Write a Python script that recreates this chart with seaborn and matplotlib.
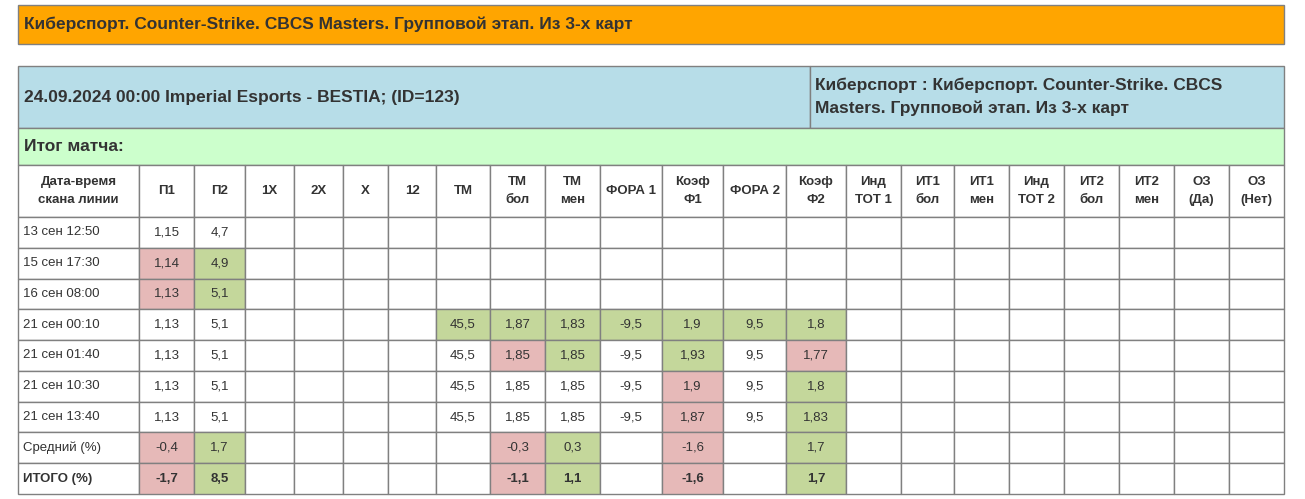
import matplotlib
matplotlib.use('Agg')
import matplotlib.pyplot as plt
from matplotlib.patches import Rectangle
import seaborn as sns

sns.set_style('white')
plt.rcParams['font.family'] = 'Liberation Sans'

TITLE = 'Киберспорт. Counter-Strike. CBCS Masters. Групповой этап. Из 3-х карт'
MATCH = '24.09.2024 00:00 Imperial Esports - BESTIA; (ID=123)'
SPORT = 'Киберспорт : Киберспорт. Counter-Strike. CBCS\nMasters. Групповой этап. Из 3-х карт'
RESULT = 'Итог матча:'

headers = ['Дата-время\nскана линии', 'П1', 'П2', '1X', '2X', 'X', '12', 'ТМ', 'ТМ\nбол', 'ТМ\nмен',
           'ФОРА 1', 'Коэф\nФ1', 'ФОРА 2', 'Коэф\nФ2', 'Инд\nТОТ 1', 'ИТ1\nбол', 'ИТ1\nмен',
           'Инд\nТОТ 2', 'ИТ2\nбол', 'ИТ2\nмен', 'ОЗ\n(Да)', 'ОЗ\n(Нет)']
col_edges = [18, 139, 194, 245, 294, 343, 388, 436, 490, 545, 600, 662, 723, 786, 846,
             901, 954, 1009, 1064, 1119, 1174, 1229, 1284]

row_labels = ['13 сен 12:50', '15 сен 17:30', '16 сен 08:00', '21 сен 00:10', '21 сен 01:40',
              '21 сен 10:30', '21 сен 13:40', 'Средний (%)', 'ИТОГО (%)']
# columns: П1, П2, 1X, 2X, X, 12, ТМ, ТМ бол, ТМ мен, ФОРА1, Коэф Ф1, ФОРА2, Коэф Ф2
values = [
    ['1,15', '4,7', '', '', '', '', '', '', '', '', '', '', ''],
    ['1,14', '4,9', '', '', '', '', '', '', '', '', '', '', ''],
    ['1,13', '5,1', '', '', '', '', '', '', '', '', '', '', ''],
    ['1,13', '5,1', '', '', '', '', '45,5', '1,87', '1,83', '-9,5', '1,9', '9,5', '1,8'],
    ['1,13', '5,1', '', '', '', '', '45,5', '1,85', '1,85', '-9,5', '1,93', '9,5', '1,77'],
    ['1,13', '5,1', '', '', '', '', '45,5', '1,85', '1,85', '-9,5', '1,9', '9,5', '1,8'],
    ['1,13', '5,1', '', '', '', '', '45,5', '1,85', '1,85', '-9,5', '1,87', '9,5', '1,83'],
    ['-0,4', '1,7', '', '', '', '', '', '-0,3', '0,3', '', '-1,6', '', '1,7'],
    ['-1,7', '8,5', '', '', '', '', '', '-1,1', '1,1', '', '-1,6', '', '1,7'],
]
# r = dropped (red), g = grew (green)
marks = [
    '             ',
    'rg           ',
    'rg           ',
    '      ggggggg',
    '       rg g r',
    '          r g',
    '          r g',
    'rg     rg r g',
    'rg     rg r g',
]

RED = '#e6b9b8'
GREEN = '#c4d79b'
LINE = '#808080'

fig = plt.figure(figsize=(13.05, 4.99), dpi=100)
ax = fig.add_axes([0, 0, 1, 1])
ax.set_xlim(0, 1305)
ax.set_ylim(499, 0)
ax.axis('off')


def box(x0, y0, x1, y1, fc='white', lw=1):
    ax.add_patch(Rectangle((x0, y0), x1 - x0, y1 - y0, facecolor=fc, edgecolor=LINE, lw=lw))


text_c = '#333333'
box(18, 5, 1284, 44, '#ffa500')
ax.text(24, 24.5, TITLE, fontsize=12.5, fontweight='bold', va='center', color=text_c)

box(18, 66, 810, 128, '#b7dde8')
box(810, 66, 1284, 128, '#b7dde8')
ax.text(24, 97, MATCH, fontsize=12.5, fontweight='bold', va='center', color=text_c)
ax.text(815, 97, SPORT, fontsize=12.5, fontweight='bold', va='center', color=text_c, linespacing=1.6)
box(18, 128, 1284, 165, '#ccffcc')
ax.text(24, 146.5, RESULT, fontsize=12.5, fontweight='bold', va='center', color=text_c)

head_top, head_bot = 165, 217
row_h = (494 - head_bot) / len(row_labels)
for j, h in enumerate(headers):
    x0, x1 = col_edges[j], col_edges[j + 1]
    box(x0, head_top, x1, head_bot)
    ax.text((x0 + x1) / 2, (head_top + head_bot) / 2, h, ha='center', va='center',
            fontsize=9.5, fontweight='bold', color=text_c, linespacing=1.6)

for i, lab in enumerate(row_labels):
    y0 = head_bot + i * row_h
    y1 = y0 + row_h
    bold = 'bold' if i == len(row_labels) - 1 else 'normal'
    box(col_edges[0], y0, col_edges[1], y1)
    ax.text(col_edges[0] + 5, (y0 + y1) / 2, lab, va='center', fontsize=9.5,
            fontweight=bold, color=text_c)
    for j in range(1, len(headers)):
        x0, x1 = col_edges[j], col_edges[j + 1]
        k = j - 1
        fc = 'white'
        val = ''
        if k < len(values[i]):
            val = values[i][k]
            m = marks[i][k]
            fc = RED if m == 'r' else GREEN if m == 'g' else 'white'
        box(x0, y0, x1, y1, fc)
        if val:
            ax.text((x0 + x1) / 2, (y0 + y1) / 2, val, ha='center', va='center',
                    fontsize=9.5, fontweight=bold, color=text_c)

fig.savefig('out.png', dpi=100)
